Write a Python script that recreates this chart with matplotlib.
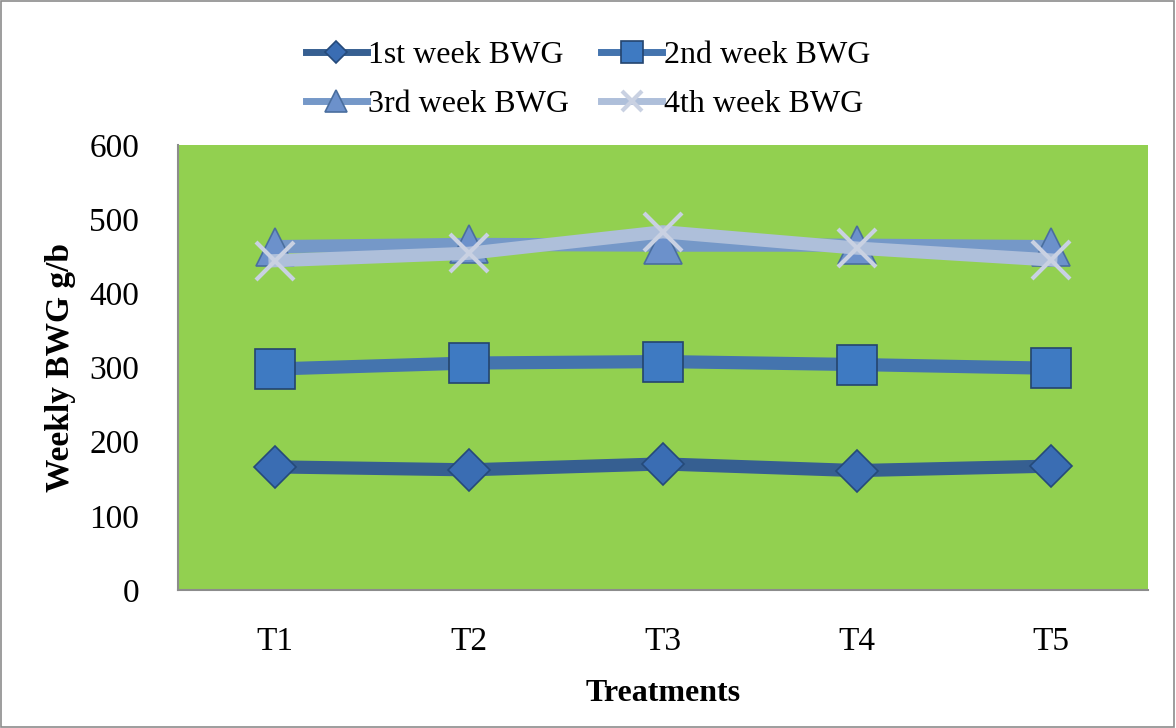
import matplotlib
matplotlib.use("Agg")
import matplotlib.pyplot as plt
from matplotlib.patches import Rectangle

treatments = ["T1", "T2", "T3", "T4", "T5"]
week1 = [166, 162, 170, 161, 167]
week2 = [298, 306, 308, 304, 299]
week3 = [463, 466, 465, 465, 463]
week4 = [444, 454, 483, 461, 445]
series_names = ["1st week BWG", "2nd week BWG", "3rd week BWG", "4th week BWG"]
y_ticks = [0, 100, 200, 300, 400, 500, 600]

plt.rcParams['font.family'] = ['Liberation Serif', 'DejaVu Serif']

fig = plt.figure(figsize=(11.76, 7.28), dpi=100)
fig.patches.append(Rectangle((0.001, 0.001), 0.997, 0.997, transform=fig.transFigure,
                             fill=False, edgecolor='#8C8C8C', linewidth=1.2))
ax = fig.add_axes([0.1514, 0.1896, 0.8246, 0.6112])
ax.set_facecolor('#92D050')

x = list(range(len(treatments)))
l1, = ax.plot(x, week1, color='#365F91', lw=9.5, marker='D', ms=21,
              mfc='#3A6DB3', mec='#254A7A', mew=1.2, zorder=3)
l2, = ax.plot(x, week2, color='#4474AE', lw=9.5, marker='s', ms=29,
              mfc='#3E7AC2', mec='#24446E', mew=1.2, zorder=3)
l3, = ax.plot(x, week3, color='#7598C8', lw=9.5, marker='^', ms=28,
              mfc='#6C91CB', mec='#4A6E9E', mew=1.2, zorder=3)
l4, = ax.plot(x, week4, color='#AEBFDA', lw=9.5, marker='x', ms=27,
              mec='#C9D1E2', mew=3, zorder=4)

ax.set_xlim(-0.5, len(treatments) - 0.5)
ax.set_ylim(0, 600)
ax.set_yticks(y_ticks)
ax.set_xticks(x)
ax.set_xticklabels(treatments)
ax.tick_params(axis='both', length=0, labelsize=24)
ax.tick_params(axis='y', pad=28)
ax.tick_params(axis='x', pad=26)
for s in ['top', 'right']:
    ax.spines[s].set_visible(False)
for s in ['left', 'bottom']:
    ax.spines[s].set_color('#8C8C8C')
    ax.spines[s].set_linewidth(1.5)

ax.set_ylabel("Weekly BWG g/b", fontsize=24, fontweight='bold')
ax.set_xlabel("Treatments", fontsize=23, fontweight='bold')
ax.yaxis.set_label_coords(-0.105, 0.5)
ax.xaxis.set_label_coords(0.5, -0.2)

leg = fig.legend([l1, l3, l2, l4],
                 [series_names[0], series_names[2], series_names[1], series_names[3]],
                 loc='center', ncol=2,
                 bbox_to_anchor=(0.5, 0.89), frameon=False, fontsize=23,
                 markerscale=0.55, handlelength=1.9, handletextpad=0.05,
                 columnspacing=1.0, labelspacing=0.6)
for h in leg.legend_handles:
    h.set_linewidth(5)

fig.savefig("out.png", dpi=100)
